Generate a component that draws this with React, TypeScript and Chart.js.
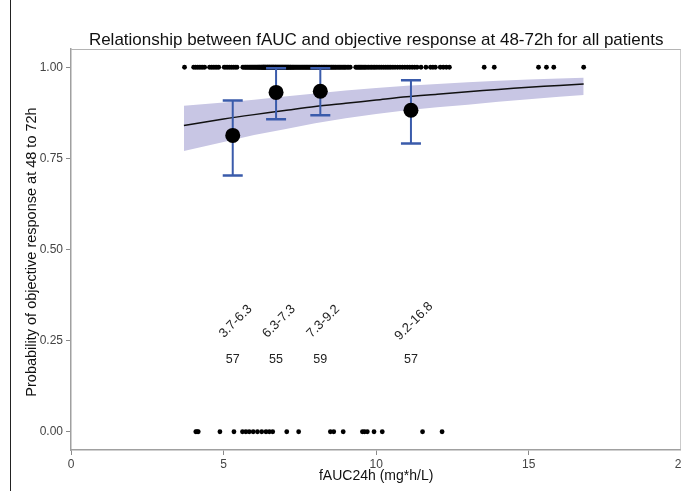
import React, { useEffect, useRef } from "react";
import { Chart, registerables } from "chart.js";

Chart.register(...registerables);

const titleText = "Relationship between fAUC and objective response at 48-72h for all patients";
const xTitle = "fAUC24h (mg*h/L)";
const yTitle = "Probability of objective response at 48 to 72h";
const xTicks = [0, 5, 10, 15, 20];
const yTicks = [0, 0.25, 0.5, 0.75, 1];

// Individual observations: responders (y = 1) and non-responders (y = 0)
const responderX = [
  3.72, 4.02, 4.08, 4.14, 4.2, 4.26, 4.32, 4.38, 4.54, 4.6, 4.66, 4.72, 4.78, 4.84,
  5.02, 5.08, 5.14, 5.2, 5.26, 5.32, 5.38, 5.44, 5.63, 5.67, 5.71, 5.74, 5.78, 5.81,
  5.85, 5.88, 5.91, 5.94, 5.97, 6.0, 6.03, 6.06, 6.09, 6.12, 6.14, 6.17, 6.19, 6.22,
  6.24, 6.26, 6.28, 6.3,
  6.31, 6.33, 6.35, 6.36, 6.38, 6.4, 6.42, 6.44, 6.45, 6.47, 6.49, 6.5, 6.52, 6.54,
  6.56, 6.58, 6.6, 6.62, 6.63, 6.65, 6.67, 6.69, 6.7, 6.72, 6.74, 6.76, 6.78, 6.8,
  6.82, 6.84, 6.86, 6.88, 6.9, 6.92, 6.94, 6.96, 6.98, 7.0, 7.02, 7.04, 7.06, 7.08,
  7.1, 7.12, 7.14, 7.17, 7.19, 7.21, 7.24, 7.26, 7.29,
  7.31, 7.34, 7.37, 7.4, 7.43, 7.46, 7.49, 7.52, 7.55, 7.58, 7.61, 7.64, 7.67, 7.7,
  7.73, 7.76, 7.79, 7.82, 7.85, 7.88, 7.91, 7.94, 7.97, 8.0, 8.03, 8.06, 8.1, 8.13,
  8.16, 8.2, 8.23, 8.27, 8.3, 8.33, 8.37, 8.4, 8.44, 8.47, 8.51, 8.54, 8.58, 8.61,
  8.65, 8.68, 8.72, 8.76, 8.8, 8.84, 8.88, 8.92, 8.96, 9.0, 9.05, 9.1, 9.15,
  9.33, 9.37, 9.41, 9.45, 9.49, 9.53, 9.57, 9.61, 9.65, 9.7, 9.75, 9.8, 9.85, 9.9,
  9.95, 10.0, 10.06, 10.12, 10.18, 10.24, 10.3, 10.36, 10.42, 10.48, 10.55, 10.62,
  10.7, 10.78, 10.86, 10.94, 11.02, 11.1, 11.18, 11.26, 11.34, 11.47, 11.63, 11.78,
  11.86, 11.94, 12.1, 12.2, 12.3, 12.4, 13.54, 13.87, 15.32, 15.58, 15.82, 16.8,
];
const nonResponderX = [
  4.09, 4.13, 4.17, 4.88, 5.34, 5.62, 5.73, 5.84, 5.97, 6.11, 6.25, 6.39, 6.5, 6.61,
  7.07, 7.46, 8.5, 8.61, 8.92, 9.55, 9.62, 9.71, 9.93, 10.2, 11.52, 12.16,
];

// Logistic fit with confidence band
const fitX = [3.7, 5, 6, 7, 8, 9, 10, 11, 12, 13, 14, 15, 16, 16.8];
const fitY = [0.84, 0.858, 0.87, 0.881, 0.892, 0.901, 0.91, 0.919, 0.926, 0.933, 0.939, 0.945, 0.95, 0.954];
const bandLower = [0.77, 0.795, 0.814, 0.83, 0.846, 0.86, 0.872, 0.882, 0.89, 0.897, 0.905, 0.912, 0.919, 0.924];
const bandUpper = [0.894, 0.903, 0.911, 0.92, 0.928, 0.936, 0.943, 0.949, 0.954, 0.959, 0.963, 0.966, 0.969, 0.971];

// Binned observed proportions
const groupLabels = ["3.7-6.3", "6.3-7.3", "7.3-9.2", "9.2-16.8"];
const groupN = [57, 55, 59, 57];
const groupX = [5.3, 6.72, 8.17, 11.14];
const groupP = [0.813, 0.931, 0.934, 0.882];
const groupLo = [0.703, 0.857, 0.868, 0.791];
const groupHi = [0.909, 0.997, 0.997, 0.964];

const FONT = '"Liberation Sans", Arial, Helvetica, sans-serif';
const MEAN_INDEX = 5;

const annotate = {
  id: "annotate",
  beforeDatasetDraw(chart: any, args: any) {
    if (args.index !== MEAN_INDEX) return;
    const ctx = chart.ctx;
    const xs = chart.scales.x;
    const ys = chart.scales.y;
    ctx.save();
    ctx.strokeStyle = "#3a5bab";
    groupX.forEach((gx, i) => {
      const px = xs.getPixelForValue(gx);
      const lo = ys.getPixelForValue(groupLo[i]);
      const hi = ys.getPixelForValue(groupHi[i]);
      ctx.lineWidth = 2;
      ctx.beginPath();
      ctx.moveTo(px, lo);
      ctx.lineTo(px, hi);
      ctx.stroke();
      ctx.lineWidth = 2.5;
      ctx.beginPath();
      ctx.moveTo(px - 10, lo);
      ctx.lineTo(px + 10, lo);
      ctx.moveTo(px - 10, hi);
      ctx.lineTo(px + 10, hi);
      ctx.stroke();
    });
    ctx.restore();
  },
  afterDatasetsDraw(chart: any) {
    const ctx = chart.ctx;
    const xs = chart.scales.x;
    const ys = chart.scales.y;
    ctx.save();
    ctx.fillStyle = "#222";
    ctx.textAlign = "center";
    ctx.textBaseline = "middle";
    groupX.forEach((gx, i) => {
      const px = xs.getPixelForValue(gx);
      ctx.save();
      ctx.font = `13px ${FONT}`;
      ctx.translate(px + 3, ys.getPixelForValue(0.303));
      ctx.rotate(-Math.PI / 4);
      ctx.fillText(groupLabels[i], 0, 0);
      ctx.restore();
      ctx.font = `12.5px ${FONT}`;
      ctx.fillText(String(groupN[i]), px, ys.getPixelForValue(0.197));
    });
    ctx.restore();
  },
  afterDraw(chart: any) {
    const ctx = chart.ctx;
    const { left, right, top, bottom } = chart.chartArea;
    ctx.save();
    // panel frame (top & right)
    ctx.strokeStyle = "#b4b4b4";
    ctx.lineWidth = 1;
    ctx.beginPath();
    ctx.moveTo(left, top + 0.5);
    ctx.lineTo(right - 0.5, top + 0.5);
    ctx.lineTo(right - 0.5, bottom);
    ctx.stroke();
    // titles
    ctx.fillStyle = "#111";
    ctx.textAlign = "center";
    ctx.textBaseline = "middle";
    ctx.font = `17px ${FONT}`;
    ctx.fillText(titleText, (left + right) / 2, 40);
    ctx.font = `14px ${FONT}`;
    ctx.fillText(xTitle, (left + right) / 2, 476);
    ctx.save();
    ctx.font = `14.5px ${FONT}`;
    ctx.translate(32, 252);
    ctx.rotate(-Math.PI / 2);
    ctx.fillText(yTitle, 0, 0);
    ctx.restore();
    // page margin line
    ctx.fillStyle = "#222";
    ctx.fillRect(10, 0, 1, chart.height);
    ctx.restore();
  },
};

export default function App() {
  const ref = useRef<HTMLCanvasElement | null>(null);
  useEffect(() => {
    if (!ref.current) return;
    const chart = new Chart(ref.current, {
      type: "scatter",
      data: {
        datasets: [
          {
            label: "lower",
            data: fitX.map((x, i) => ({ x, y: bandLower[i] })),
            showLine: true,
            borderWidth: 0,
            pointRadius: 0,
            fill: false,
            order: 10,
          } as any,
          {
            label: "upper",
            data: fitX.map((x, i) => ({ x, y: bandUpper[i] })),
            showLine: true,
            borderWidth: 0,
            pointRadius: 0,
            fill: "-1",
            backgroundColor: "rgb(200,198,228)",
            order: 9,
          },
          {
            label: "fit",
            data: fitX.map((x, i) => ({ x, y: fitY[i] })),
            showLine: true,
            borderColor: "#111",
            borderWidth: 1.5,
            pointRadius: 0,
            tension: 0.3,
            order: 8,
          },
          {
            label: "responders",
            data: responderX.map((x) => ({ x, y: 1 })),
            pointRadius: 2.4,
            pointBackgroundColor: "#000",
            pointBorderWidth: 0,
            order: 7,
          },
          {
            label: "nonresponders",
            data: nonResponderX.map((x) => ({ x, y: 0 })),
            pointRadius: 2.4,
            pointBackgroundColor: "#000",
            pointBorderWidth: 0,
            order: 6,
          },
          {
            label: "observed",
            data: groupX.map((x, i) => ({ x, y: groupP[i] })),
            pointRadius: 7.5,
            pointBackgroundColor: "#000",
            pointBorderWidth: 0,
            order: 1,
          },
        ],
      },
      options: {
        animation: false,
        responsive: false,
        devicePixelRatio: 1,
        events: [],
        layout: { padding: { left: 0, right: 4, top: 49, bottom: 0 } },
        plugins: {
          legend: { display: false },
          tooltip: { enabled: false },
          title: { display: false },
        },
        scales: {
          x: {
            type: "linear",
            min: 0,
            max: 20,
            afterFit(scale: any) {
              scale.height = 41;
            },
            afterBuildTicks(scale: any) {
              scale.ticks = xTicks.map((v) => ({ value: v }));
            },
            grid: { drawOnChartArea: false, drawTicks: true, tickLength: 5, color: "#8a8a8a", lineWidth: 1 },
            border: { display: true, color: "#a0a0a0", width: 1.5 },
            ticks: { color: "#444", font: { family: FONT, size: 12 }, padding: 2, maxRotation: 0 },
          },
          y: {
            type: "linear",
            min: -0.05,
            max: 1.05,
            afterFit(scale: any) {
              scale.width = 71;
              scale.paddingTop = 0;
              scale.paddingBottom = 0;
            },
            afterBuildTicks(scale: any) {
              scale.ticks = yTicks.map((v) => ({ value: v }));
            },
            grid: { drawOnChartArea: false, drawTicks: true, tickLength: 5, color: "#8a8a8a", lineWidth: 1 },
            border: { display: true, color: "#a0a0a0", width: 1.5 },
            ticks: {
              color: "#444",
              font: { family: FONT, size: 12 },
              padding: 3,
              callback: (v: any) => Number(v).toFixed(2),
            },
          },
        },
      },
      plugins: [annotate],
    });
    return () => chart.destroy();
  }, []);
  return (
    <div style={{ position: "absolute", left: 0, top: 0, width: 681, height: 491, overflow: "hidden", background: "#fff" }}>
      <canvas ref={ref} width={690} height={491} style={{ display: "block" }} />
    </div>
  );
}
